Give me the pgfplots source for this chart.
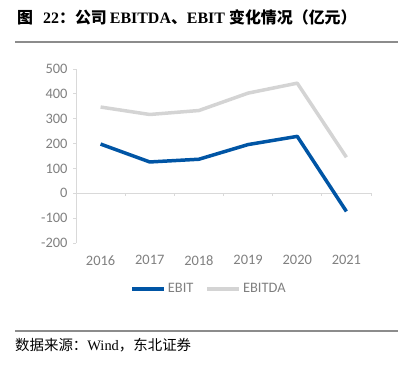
\documentclass[border=0pt]{standalone}
\usepackage{pgfplots}
\pgfplotsset{compat=1.18}
\usepackage{fontspec}
\setmainfont{Liberation Serif}
\newfontfamily\cjk{Noto Sans CJK SC}
\newfontfamily\lab{Carlito}
\definecolor{ebit}{HTML}{0055A5}
\definecolor{ebitda}{HTML}{D4D4D4}
\definecolor{txt}{HTML}{808080}
\definecolor{axl}{HTML}{D9D9D9}
\definecolor{rule}{HTML}{8C8C8C}
\begin{document}
\begin{tikzpicture}
\useasboundingbox (0bp,0bp) rectangle (406bp,366bp);
\draw[rule, line width=2bp] (15bp,324.3bp) -- (398bp,324.3bp);
\draw[rule, line width=2bp] (15bp,35bp) -- (398bp,35bp);
\node[anchor=west, inner sep=0] at (17bp,349bp) {\fontsize{16}{18}\selectfont{\cjk\bfseries 图}\hspace{10bp}{\bfseries 22}{\cjk\bfseries ：公司}\hspace{3bp}{\bfseries EBITDA}{\cjk\bfseries 、}{\bfseries EBIT}\hspace{4bp}{\cjk\bfseries 变化情况（亿元）}};
\node[anchor=west, inner sep=0] at (15bp,21bp) {\fontsize{14.5}{17}\selectfont{\cjk 数据来源：}Wind{\cjk ，东北证券}};
\begin{axis}[
  at={(76bp,123bp)}, anchor=south west,
  scale only axis, width=295bp, height=174bp,
  xmin=-0.5, xmax=5.5, ymin=-200, ymax=500,
  axis y line*=left, axis x line*=bottom,
  x axis line style={draw=none},
  y axis line style={axl, line width=1bp},
  xtick={0,1,2,3,4,5},
  xticklabels={2016,2017,2018,2019,2020,2021},
  ytick={-200,-100,0,100,200,300,400,500},
  yticklabels={-200,-100,0,100,200,300,400,500},
  x tick style={draw=none},
  y tick style={axl, line width=0.8bp},
  major tick length=3bp, tick align=outside,
  tick label style={font=\lab\fontsize{14.5}{16}\selectfont, text=txt},
  xticklabel style={yshift=-6bp},
  yticklabel style={xshift=-2bp},
  legend style={at={(0.451,-0.264)}, anchor=center, draw=none, fill=none,
    font=\lab\fontsize{14.5}{16}\selectfont, text=txt,
    /tikz/every even column/.append style={column sep=10bp}},
  legend columns=2,
  legend image code/.code={\draw[#1] (0bp,0bp) -- (32bp,0bp);},
  clip=false,
]
\draw[axl, line width=1bp] (axis cs:-0.5,0) -- (axis cs:5.5,0);
\pgfplotsinvokeforeach{0.5,1.5,2.5,3.5,4.5,5.5}{
  \draw[axl, line width=0.8bp] (axis cs:#1,0) -- ++(0bp,-3bp);
}
\addplot[ebit, line width=3.5bp, line join=round] coordinates {
  (0,198) (1,126) (2,137) (3,196) (4,229) (5,-73)};
\addlegendentry{EBIT}
\addplot[ebitda, line width=3.5bp, line join=round] coordinates {
  (0,347) (1,317) (2,333) (3,403) (4,443) (5,145)};
\addlegendentry{EBITDA}
\end{axis}
\end{tikzpicture}
\end{document}
